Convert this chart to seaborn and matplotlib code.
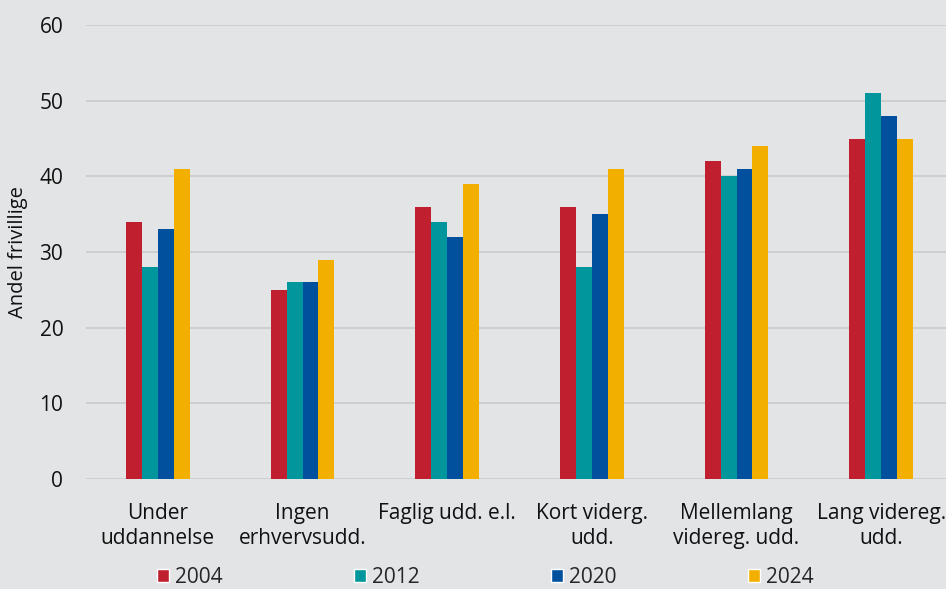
import pandas as pd
import seaborn as sns
import matplotlib.pyplot as plt
from matplotlib.patches import Patch

# Data
categories = ["Under\nuddannelse", "Ingen\nerhvervsudd.", "Faglig udd. e.l.",
              "Kort viderg.\nudd.", "Mellemlang\nvidereg. udd.", "Lang videreg.\nudd."]
years = ["2004", "2012", "2020", "2024"]
v2004 = [34, 25, 36, 36, 42, 45]
v2012 = [28, 26, 34, 28, 40, 51]
v2020 = [33, 26, 32, 35, 41, 48]
v2024 = [41, 29, 39, 41, 44, 45]
colors = ["#C01F30", "#00969B", "#00509D", "#F2AF00"]

rows = []
for yr, vals in zip(years, [v2004, v2012, v2020, v2024]):
    for cat, v in zip(categories, vals):
        rows.append({"kategori": cat, "aar": yr, "andel": v})
df = pd.DataFrame(rows)

# Style
bg = "#E3E4E6"
sns.set_theme(style="white")
plt.rcParams["font.family"] = ["Open Sans", "DejaVu Sans"]

fig = plt.figure(figsize=(9.46, 5.89), dpi=100, facecolor=bg)
ax = fig.add_axes([85.5 / 946, 1 - 479 / 589, 868 / 946, 454 / 589])
ax.set_facecolor(bg)

sns.barplot(
    data=df,
    x="kategori",
    y="andel",
    hue="aar",
    palette=colors,
    saturation=1,
    width=0.44,
    gap=0,
    linewidth=0,
    legend=False,
    ax=ax,
)

ax.set_ylim(0, 60)
ax.set_yticks(range(0, 61, 10))
ax.set_xlim(-0.5, len(categories) - 0.5)
ax.yaxis.grid(True, color="#C9CACC", linewidth=1.2)
ax.set_axisbelow(True)
for s in ax.spines.values():
    s.set_visible(False)

ax.tick_params(axis="both", length=0, labelsize=15, colors="#111111")
ax.tick_params(axis="y", pad=16)
ax.tick_params(axis="x", pad=17)
for lbl in ax.get_xticklabels():
    lbl.set_linespacing(1.3)
ax.set_xlabel("")
ax.set_ylabel("Andel frivillige", fontsize=14.5, color="#111111")
ax.yaxis.set_label_coords(-0.066, 0.5)

handles = [Patch(facecolor=c, label=y) for c, y in zip(colors, years)]
fig.legend(
    handles=handles,
    loc="lower center",
    bbox_to_anchor=(0.513, -0.03),
    ncol=4,
    frameon=False,
    fontsize=15,
    handlelength=0.58,
    handleheight=0.58,
    handletextpad=0.3,
    columnspacing=6.3,
)

fig.savefig("out.png", dpi=100, facecolor=bg)
